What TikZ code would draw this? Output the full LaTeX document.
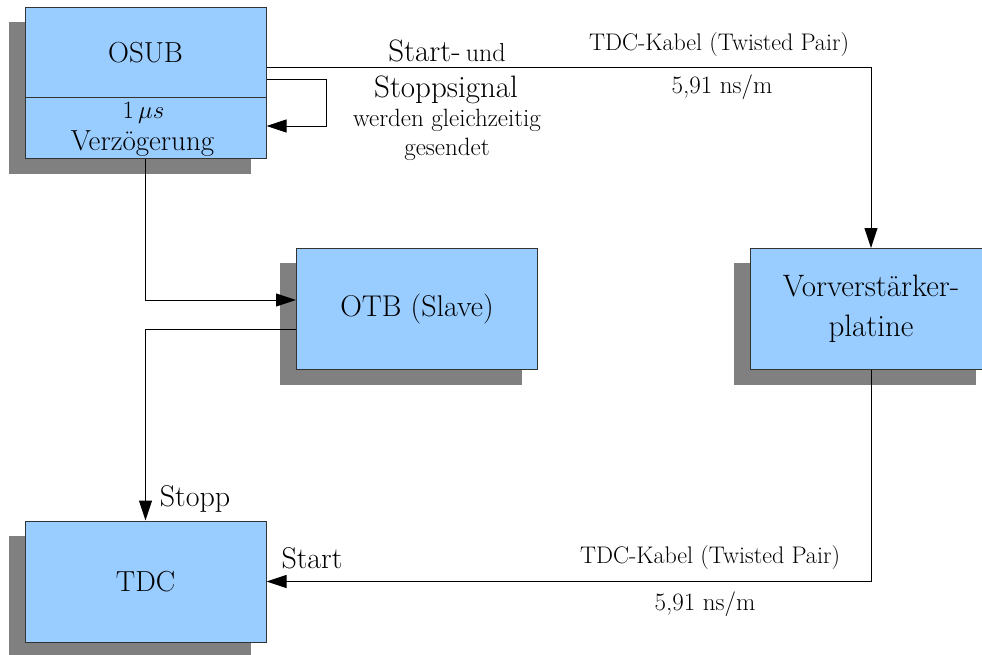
\documentclass[tikz,border=0pt]{standalone}
\usepackage{fontspec}
\usetikzlibrary{arrows.meta,backgrounds}

\definecolor{boxblue}{HTML}{99CCFF}
\definecolor{shadowgray}{HTML}{808080}
\definecolor{edgegray}{HTML}{333333}

\tikzset{every picture/.style={line width=1pt}}
\tikzset{
  block/.style={draw=edgegray,fill=boxblue,inner sep=0pt,align=center,
    minimum width=241pt,minimum height=121pt,font=\fontsize{30}{40}\selectfont},
  link/.style={draw=black,-{Triangle[length=20pt,width=13pt]}},
  lbl/.style={inner sep=0pt,anchor=center},
  big/.style={lbl,font=\fontsize{30}{34}\selectfont},
  small/.style={lbl,font=\fontsize{25}{28}\selectfont},
  cable/.style={lbl,font=\fontsize{24}{28}\selectfont}
}
\newcommand{\shadowof}[1]{%
  \fill[shadowgray] ([shift={(-16,15)}]#1.north west) rectangle ([shift={(-16,15)}]#1.south east);}

\begin{document}
\begin{tikzpicture}[x=1pt,y=1pt,yscale=-1,xscale=1]
\clip (0,0) rectangle (982,654);

%Boxes
\node[block,minimum height=151pt] (osub) at (145.5,82.5) {};
\node[block] (otb) at (417,309) {OTB (Slave)};
\node[block,font=\fontsize{31}{40}\selectfont] (vorv) at (871,309) {Vorverstärker-\\platine};
\node[block,font=\fontsize{29}{40}\selectfont] (tdc) at (145.5,581.5) {TDC};

%Shadows
\begin{scope}[on background layer]
\shadowof{osub}
\shadowof{otb}
\shadowof{vorv}
\shadowof{tdc}
\end{scope}

%OSUB split in two parts
\draw[edgegray] (osub.west |- 0,97) -- (osub.east |- 0,97);
\node[lbl,font=\fontsize{29}{32}\selectfont] (osubname) at (145.5,53) {OSUB};
\node[lbl,font=\fontsize{29}{30}\selectfont] (delay) at (143.5,113) {$1\,\mu s$};
\node[lbl,font=\fontsize{29}{30}\selectfont] (delaytext) at (142.5,144) {Verzögerung};

%Connectors
\draw[link] (osub.east |- 0,67) -- (vorv.north |- 0,67) -- (vorv.north);
\draw[link] (osub.east |- 0,79) -- ++(60,0) |- (osub.east |- 0,126);
\draw[link] (osub.south) |- (otb.west |- 0,300);
\draw[link] (otb.west |- 0,329) -| (tdc.north);
\draw[link] (vorv.south) |- (tdc.east);

%Text on the signal line
\node[lbl] (startund) at (447,51) {{\fontsize{31}{34}\selectfont Start-}\hspace{5pt}{\fontsize{26}{28}\selectfont und}};
\node[lbl,font=\fontsize{31}{34}\selectfont] (stoppsig) at (446,90) {Stoppsignal};
\node[small] (werden) at (447,120) {werden gleichzeitig};
\node[small] (gesendet) at (447,149) {gesendet};

%Cable labels
\node[cable] (cabletop) at (719,45) {TDC-Kabel (Twisted Pair)};
\node[small] (delaytop) at (722,87) {5,91 ns/m};
\node[cable] (cablebot) at (710,558) {TDC-Kabel (Twisted Pair)};
\node[small] (delaybot) at (705,604) {5,91 ns/m};

%Inputs of the TDC
\node[big] (stopp) at (195,499) {Stopp};
\node[big] (start) at (312,558) {Start};
\end{tikzpicture}
\end{document}
